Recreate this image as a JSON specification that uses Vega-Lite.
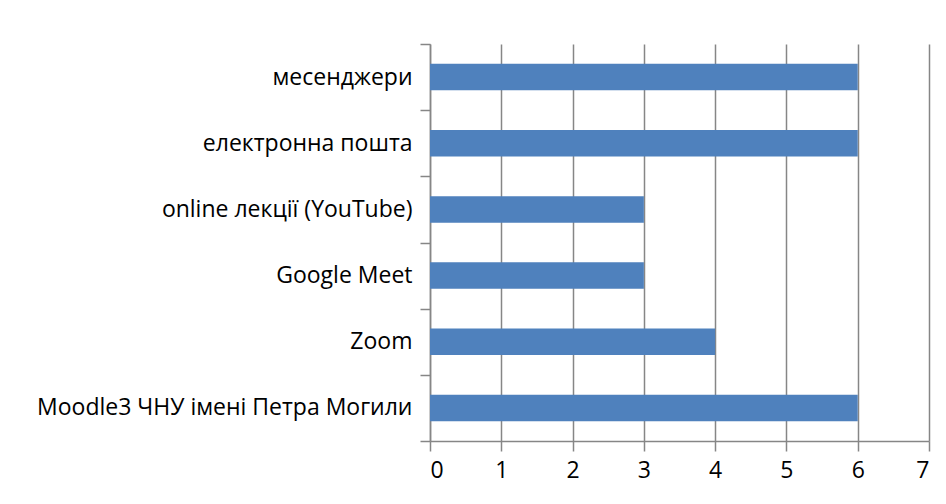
{
  "$schema": "https://vega.github.io/schema/vega-lite/v6.json",
  "autosize": "none",
  "width": 499,
  "height": 397,
  "padding": {"left": 430, "top": 44, "right": 17, "bottom": 63},
  "background": "white",
  "data": {
    "values": [
      {"category": "месенджери", "value": 6},
      {"category": "електронна пошта", "value": 6},
      {"category": "online лекції (YouTube)", "value": 3},
      {"category": "Google Meet", "value": 3},
      {"category": "Zoom", "value": 4},
      {"category": "Moodle3 ЧНУ імені Петра Могили", "value": 6}
    ]
  },
  "mark": {"type": "bar", "color": "#4F81BD", "height": {"band": 0.4}},
  "encoding": {
    "y": {
      "field": "category",
      "type": "nominal",
      "sort": null,
      "scale": {"paddingInner": 0, "paddingOuter": 0},
      "axis": {
        "title": null,
        "tickBand": "extent",
        "tickSize": 10,
        "tickColor": "#868686",
        "tickWidth": 1.5,
        "domainColor": "#868686",
        "domainWidth": 1.5,
        "labelPadding": 8,
        "labelLimit": 500,
        "labelFont": "Open Sans",
        "labelFontSize": 23,
        "labelColor": "#000000",
        "grid": false
      }
    },
    "x": {
      "field": "value",
      "type": "quantitative",
      "scale": {"domain": [0, 7], "nice": false},
      "axis": {
        "title": null,
        "values": [0, 1, 2, 3, 4, 5, 6, 7],
        "format": "d",
        "tickSize": 10,
        "tickColor": "#868686",
        "tickWidth": 1.5,
        "domainColor": "#868686",
        "domainWidth": 1.5,
        "gridColor": "#868686",
        "gridWidth": 1.5,
        "gridOpacity": 1,
        "labelPadding": 8,
        "labelFont": "Open Sans",
        "labelFontSize": 23,
        "labelColor": "#000000"
      }
    }
  },
  "config": {"view": {"stroke": null}}
}
